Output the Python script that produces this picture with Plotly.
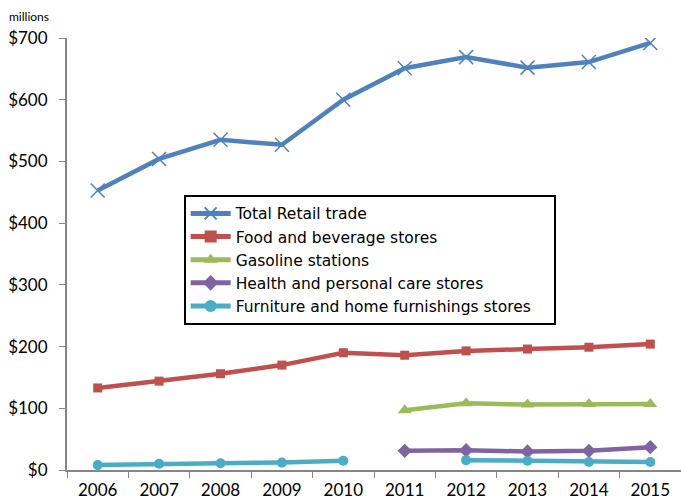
import plotly.graph_objects as go

years = ["2006", "2007", "2008", "2009", "2010", "2011", "2012", "2013", "2014", "2015"]
total_retail = [453, 504, 535, 527, 600, 651, 669, 652, 661, 692]
food_beverage = [133, 144, 156, 170, 190, 186, 193, 196, 199, 204]
gasoline = [None, None, None, None, None, 97, 108, 106, 107, 107]
health_personal = [None, None, None, None, None, 31, 32, 30, 31, 37]
furniture = [8, 10, 11, 12, 15, None, 16, 15, 13, 13]

series = [
    ("Total Retail trade", total_retail, "#4F81BD", "x-thin", 14),
    ("Food and beverage stores", food_beverage, "#C0504D", "square", 9),
    ("Gasoline stations", gasoline, "#9BBB59", "triangle-up", 12),
    ("Health and personal care stores", health_personal, "#8064A2", "diamond", 11),
    ("Furniture and home furnishings stores", furniture, "#4BACC6", "circle", 10),
]

fig = go.Figure()
for name, vals, color, sym, size in series:
    marker = dict(symbol=sym, size=size, color=color)
    if sym == "x-thin":
        marker["line"] = dict(color=color, width=1.5)
    fig.add_trace(go.Scatter(
        x=years, y=vals, name=name, mode="lines+markers",
        line=dict(color=color, width=4.5), marker=marker,
        connectgaps=False,
    ))

fig.add_annotation(x="2011", y=7, text="x", showarrow=False,
                   font=dict(size=13, color="black", family="Lato"))

fig.add_annotation(x=-0.098, y=1.0, xref="paper", yref="paper", text="millions",
                   showarrow=False, xanchor="left", yanchor="bottom", yshift=12,
                   font=dict(size=12, color="black", family="Lato"))

fig.update_layout(
    width=681, height=503,
    margin=dict(l=67, r=0, t=38, b=33),
    paper_bgcolor="white", plot_bgcolor="white",
    font=dict(family="Lato", color="black"),
    showlegend=True,
    legend=dict(x=0.19, y=0.637, xanchor="left", yanchor="top",
                orientation="h", entrywidthmode="fraction", entrywidth=0.59,
                bordercolor="black", borderwidth=2, bgcolor="white",
                font=dict(size=15.5, color="black", family="DejaVu Sans"),
                tracegroupgap=0, itemsizing="constant", itemwidth=40),
    xaxis=dict(type="category", range=[-0.5, 9.5], showgrid=False,
               showline=True, linecolor="#868686", linewidth=2,
               ticks="outside", ticklen=6, tickcolor="#868686",
               tickson="boundaries", ticklabelstandoff=4,
               tickfont=dict(size=17, color="black")),
    yaxis=dict(range=[0, 700], dtick=100, tickprefix="$", showgrid=False,
               zeroline=False, showline=True, linecolor="#868686", linewidth=2,
               ticks="outside", ticklen=6, tickcolor="#868686",
               ticklabelstandoff=8,
               tickfont=dict(size=17, color="black")),
)

fig.write_html("out.html")
